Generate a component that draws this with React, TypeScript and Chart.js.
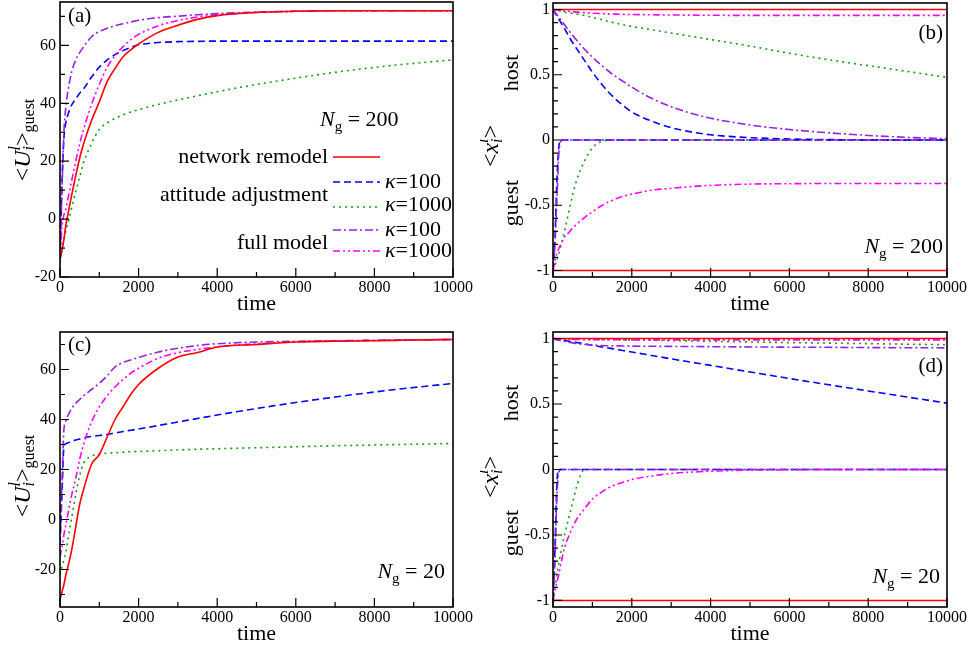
import React, { useEffect, useRef } from 'react';
import { Chart, registerables } from 'chart.js';

Chart.register(...registerables);

const SERIF = '"Liberation Serif", "Times New Roman", Times, serif';

// ---------------- data ----------------
const timeGrid = [0, 50, 100, 150, 200, 300, 400, 500, 600, 800, 1000, 1200, 1400, 1600, 1800, 2000, 2500, 3000, 3500, 4000, 5000, 6000, 7000, 8000, 9000, 10000];

// (a) N_g = 200, guest utility
const utilRemodel200 = [-14, -11, -7, -2, 1.5, 8.5, 15, 21, 26, 34, 40.5, 47.5, 52, 56, 58.5, 60.5, 64.5, 67, 69, 70.3, 71.4, 71.8, 72, 72, 72, 72];
const utilAtt100_200 = [-14, 12, 28, 33.5, 36, 39.5, 41.5, 43.5, 45, 49, 52.5, 55, 56.8, 58.2, 59.3, 60.2, 61, 61.3, 61.4, 61.5, 61.5, 61.5, 61.5, 61.5, 61.5, 61.5];
const utilAtt1000_200 = [-15, -10.5, -7, -4, -1.5, 4, 9.5, 14.5, 19.5, 26, 31, 33.2, 34.8, 36, 37, 37.8, 39.6, 41.2, 42.6, 44, 46.5, 48.7, 50.7, 52.4, 53.8, 55];
const utilFull100_200 = [-14, 10, 30, 39, 44, 51, 55, 57.5, 59.5, 63, 64.8, 65.9, 66.8, 67.5, 68.1, 68.7, 69.6, 70.1, 70.6, 71, 71.5, 71.8, 72, 72, 72, 72];
const utilFull1000_200 = [-14, -3, 1.5, 3.5, 7, 13.5, 20, 26, 31, 39.5, 46.5, 52.5, 56.5, 59.5, 62, 63.8, 66.8, 68.6, 69.8, 70.6, 71.4, 71.8, 72, 72, 72, 72];

// (c) N_g = 20, guest utility
const utilRemodel20 = [-32, -29, -26, -22, -19, -12, -3, 6, 12, 22, 26, 33, 40, 45, 50, 54, 60.5, 65, 66.8, 69, 70, 71, 71.3, 71.5, 71.8, 72];
const utilAtt100_20 = [-10, 10, 29, 30.3, 30.7, 31.3, 31.8, 32.2, 32.6, 33.2, 33.6, 34, 34.6, 35.2, 35.7, 36.2, 37.6, 39, 40.4, 41.8, 44.4, 46.8, 49, 51, 52.8, 54.4];
const utilAtt1000_20 = [-22, -19, -16, -13, -8, 1, 10, 17.5, 22.5, 25.3, 26.2, 26.5, 26.7, 26.9, 27.1, 27.2, 27.5, 27.8, 28.1, 28.3, 28.7, 29.1, 29.5, 29.8, 30.1, 30.4];
const utilFull100_20 = [-10, 15, 36, 39.5, 41.5, 44.5, 46.5, 48, 49.5, 52, 54.5, 57.5, 61, 62.8, 63.8, 64.8, 67, 68.5, 69.6, 70.3, 71, 71.3, 71.5, 71.7, 71.8, 72];
const utilFull1000_20 = [-15, -11, -6, -2, 2, 10, 16.5, 24, 30, 39, 45, 49.5, 53, 56, 58.5, 60.5, 64.5, 66.7, 68, 69, 70.3, 71, 71.4, 71.6, 71.8, 72];

// (b) N_g = 200, opinions of host and guest groups
const hostRemodel200 = [1, 1, 1, 1, 1, 1, 1, 1, 1, 1, 1, 1, 1, 1, 1, 1, 1, 1, 1, 1, 1, 1, 1, 1, 1, 1];
const guestRemodel200 = [-1, -1, -1, -1, -1, -1, -1, -1, -1, -1, -1, -1, -1, -1, -1, -1, -1, -1, -1, -1, -1, -1, -1, -1, -1, -1];
const hostAtt100_200 = [1, 0.975, 0.95, 0.925, 0.9, 0.85, 0.795, 0.745, 0.7, 0.61, 0.52, 0.44, 0.37, 0.31, 0.26, 0.215, 0.145, 0.095, 0.062, 0.04, 0.018, 0.008, 0.003, 0.001, 0, 0];
const guestAtt100_200 = [-1, -0.75, -0.3, -0.05, 0, 0, 0, 0, 0, 0, 0, 0, 0, 0, 0, 0, 0, 0, 0, 0, 0, 0, 0, 0, 0, 0];
const hostAtt1000_200 = [1, 0.997, 0.994, 0.99, 0.987, 0.98, 0.975, 0.97, 0.965, 0.955, 0.94, 0.925, 0.91, 0.895, 0.882, 0.87, 0.845, 0.82, 0.795, 0.77, 0.72, 0.665, 0.615, 0.57, 0.525, 0.48];
const guestAtt1000_200 = [-1, -0.96, -0.92, -0.87, -0.81, -0.69, -0.55, -0.42, -0.31, -0.16, -0.06, -0.015, 0, 0, 0, 0, 0, 0, 0, 0, 0, 0, 0, 0, 0, 0];
const hostFull100_200 = [1, 0.98, 0.96, 0.94, 0.92, 0.88, 0.84, 0.8, 0.765, 0.695, 0.635, 0.58, 0.53, 0.485, 0.445, 0.405, 0.32, 0.255, 0.205, 0.167, 0.115, 0.08, 0.055, 0.035, 0.02, 0.01];
const guestFull100_200 = [-1, -0.8, -0.45, -0.1, -0.01, 0, 0, 0, 0, 0, 0, 0, 0, 0, 0, 0, 0, 0, 0, 0, 0, 0, 0, 0, 0, 0];
const hostFull1000_200 = [1, 0.998, 0.996, 0.994, 0.992, 0.989, 0.986, 0.983, 0.98, 0.976, 0.972, 0.969, 0.967, 0.965, 0.963, 0.962, 0.96, 0.958, 0.957, 0.956, 0.955, 0.955, 0.955, 0.955, 0.955, 0.955];
const guestFull1000_200 = [-1, -0.93, -0.87, -0.83, -0.8, -0.74, -0.71, -0.675, -0.645, -0.595, -0.55, -0.51, -0.475, -0.45, -0.43, -0.415, -0.385, -0.37, -0.357, -0.348, -0.338, -0.335, -0.333, -0.333, -0.333, -0.333];

// (d) N_g = 20, opinions of host and guest groups
const hostRemodel20 = [1, 1, 1, 1, 1, 1, 1, 1, 1, 1, 1, 1, 1, 1, 1, 1, 1, 1, 1, 1, 1, 1, 1, 1, 1, 1];
const guestRemodel20 = [-1, -1, -1, -1, -1, -1, -1, -1, -1, -1, -1, -1, -1, -1, -1, -1, -1, -1, -1, -1, -1, -1, -1, -1, -1, -1];
const hostAtt100_20 = [1, 0.997, 0.995, 0.992, 0.99, 0.985, 0.98, 0.975, 0.97, 0.96, 0.949, 0.938, 0.928, 0.918, 0.907, 0.897, 0.871, 0.845, 0.82, 0.795, 0.745, 0.695, 0.647, 0.6, 0.553, 0.507];
const guestAtt100_20 = [-1, -0.6, -0.1, 0, 0, 0, 0, 0, 0, 0, 0, 0, 0, 0, 0, 0, 0, 0, 0, 0, 0, 0, 0, 0, 0, 0];
const hostAtt1000_20 = [1, 1, 0.999, 0.999, 0.998, 0.998, 0.997, 0.997, 0.996, 0.995, 0.994, 0.993, 0.992, 0.991, 0.99, 0.989, 0.987, 0.984, 0.982, 0.979, 0.974, 0.969, 0.965, 0.961, 0.957, 0.953];
const guestAtt1000_20 = [-1, -0.9, -0.8, -0.71, -0.63, -0.49, -0.37, -0.25, -0.13, 0, 0, 0, 0, 0, 0, 0, 0, 0, 0, 0, 0, 0, 0, 0, 0, 0];
const hostFull100_20 = [1, 0.995, 0.99, 0.987, 0.984, 0.978, 0.972, 0.967, 0.962, 0.955, 0.95, 0.947, 0.945, 0.944, 0.943, 0.942, 0.941, 0.94, 0.939, 0.938, 0.936, 0.934, 0.933, 0.931, 0.93, 0.929];
const guestFull100_20 = [-1, -0.7, -0.2, -0.02, 0, 0, 0, 0, 0, 0, 0, 0, 0, 0, 0, 0, 0, 0, 0, 0, 0, 0, 0, 0, 0, 0];
const hostFull1000_20 = [1, 0.999, 0.998, 0.997, 0.996, 0.995, 0.994, 0.993, 0.993, 0.992, 0.992, 0.991, 0.991, 0.991, 0.99, 0.99, 0.99, 0.99, 0.99, 0.99, 0.99, 0.99, 0.99, 0.99, 0.99, 0.99];
const guestFull1000_20 = [-1, -0.93, -0.86, -0.8, -0.72, -0.59, -0.51, -0.44, -0.38, -0.3, -0.225, -0.18, -0.14, -0.115, -0.095, -0.077, -0.05, -0.03, -0.02, -0.013, -0.005, -0.002, 0, 0, 0, 0];

// ticks
const xMajorTicks = [0, 2000, 4000, 6000, 8000, 10000];
const xMinorTicks = [1000, 3000, 5000, 7000, 9000];
const utilMajorTicks = [-20, 0, 20, 40, 60];
const utilMinorTicksA = [-10, 10, 30, 50, 70];
const utilMinorTicksC = [-30, -10, 10, 30, 50, 70];
const opinionMajorTicks = [-1, -0.5, 0, 0.5, 1];
const opinionMinorTicks = [-0.9, -0.8, -0.7, -0.6, -0.4, -0.3, -0.2, -0.1, 0.1, 0.2, 0.3, 0.4, 0.6, 0.7, 0.8, 0.9];

// ---------------- styles ----------------
type StyleKey = 'remodel' | 'att100' | 'att1000' | 'full100' | 'full1000';
const STYLES: Record<StyleKey, { color: string; dash: number[] }> = {
  remodel: { color: '#ff0000', dash: [] },
  att100: { color: '#0000ff', dash: [7, 4] },
  att1000: { color: '#12a012', dash: [2, 4] },
  full100: { color: '#9b1fe0', dash: [8, 3, 2, 3] },
  full1000: { color: '#ff00ff', dash: [7, 3, 2, 3, 2, 3] },
};

type Part = { t: string; size?: number; italic?: boolean; dy?: number; t2?: string; dy2?: number };

function fontStr(size: number, italic?: boolean) {
  return `${italic ? 'italic ' : ''}${size}px ${SERIF}`;
}

function drawRich(ctx: CanvasRenderingContext2D, parts: Part[], x: number, y: number, align: 'left' | 'center' | 'right', rotated = false) {
  ctx.save();
  ctx.translate(x, y);
  if (rotated) ctx.rotate(-Math.PI / 2);
  ctx.textBaseline = 'alphabetic';
  ctx.textAlign = 'left';
  ctx.fillStyle = '#000';
  const widths = parts.map((p) => {
    ctx.font = fontStr(p.size ?? 22, p.italic);
    let w = ctx.measureText(p.t).width;
    if (p.t2) w = Math.max(w, ctx.measureText(p.t2).width);
    return w;
  });
  const total = widths.reduce((a, b) => a + b, 0);
  let cx = align === 'left' ? 0 : align === 'center' ? -total / 2 : -total;
  parts.forEach((p, i) => {
    ctx.font = fontStr(p.size ?? 22, p.italic);
    ctx.fillText(p.t, cx, p.dy ?? 0);
    if (p.t2) ctx.fillText(p.t2, cx, p.dy2 ?? 0);
    cx += widths[i];
  });
  ctx.restore();
}

const ngParts = (n: string): Part[] => [
  { t: 'N', italic: true },
  { t: 'g', size: 15, dy: 5 },
  { t: ' = ' + n },
];
const utilTitle: Part[] = [
  { t: '<', size: 24 },
  { t: 'U', italic: true, size: 24 },
  { t: 'i', size: 16, italic: true, dy: 4, t2: 'l', dy2: -10 },
  { t: '>', size: 24 },
  { t: 'guest', size: 16, dy: 4 },
];
const opinionTitle: Part[] = [
  { t: '<', size: 24 },
  { t: 'x', italic: true, size: 24 },
  { t: 'i', size: 16, italic: true, dy: 4, t2: 'l', dy2: -10 },
  { t: '>', size: 24 },
];

interface LineSpec { style: StyleKey; values: number[] }
interface PanelSpec {
  left: number; top: number; width: number; height: number;
  area: { left: number; right: number; top: number; bottom: number };
  yMin: number; yMax: number; yMajor: number[]; yMinor: number[]; yPad: number;
  lines: LineSpec[];
  label: { t: string; x: number; y: number; align: 'left' | 'right' };
  ng: { n: string; x: number; y: number; align: 'left' | 'right' };
  kind: 'util' | 'opinion';
  title: { x: number; y: number };
  host?: { x: number; y: number };
  guest?: { x: number; y: number };
  legend?: boolean;
}

const PANELS: PanelSpec[] = [
  {
    left: 0, top: 0, width: 480, height: 320,
    area: { left: 60, right: 453, top: 2, bottom: 277 },
    yMin: -20, yMax: 75, yMajor: utilMajorTicks, yMinor: utilMinorTicksA, yPad: 4,
    lines: [
      { style: 'remodel', values: utilRemodel200 },
      { style: 'full100', values: utilFull100_200 },
      { style: 'full1000', values: utilFull1000_200 },
      { style: 'att100', values: utilAtt100_200 },
      { style: 'att1000', values: utilAtt1000_200 },
    ],
    label: { t: '(a)', x: 68, y: 16, align: 'left' },
    ng: { n: '200', x: 320, y: 126, align: 'left' },
    kind: 'util', title: { x: 30, y: 140 }, legend: true,
  },
  {
    left: 480, top: 0, width: 491, height: 320,
    area: { left: 73, right: 467, top: 3, bottom: 277 },
    yMin: -1.05, yMax: 1.05, yMajor: opinionMajorTicks, yMinor: opinionMinorTicks, yPad: 3,
    lines: [
      { style: 'remodel', values: hostRemodel200 },
      { style: 'remodel', values: guestRemodel200 },
      { style: 'full1000', values: hostFull1000_200 },
      { style: 'full1000', values: guestFull1000_200 },
      { style: 'full100', values: hostFull100_200 },
      { style: 'full100', values: guestFull100_200 },
      { style: 'att100', values: hostAtt100_200 },
      { style: 'att100', values: guestAtt100_200 },
      { style: 'att1000', values: hostAtt1000_200 },
      { style: 'att1000', values: guestAtt1000_200 },
    ],
    label: { t: '(b)', x: 463, y: 33, align: 'right' },
    ng: { n: '200', x: 463, y: 253, align: 'right' },
    kind: 'opinion', title: { x: 18, y: 146 }, host: { x: 38, y: 73 }, guest: { x: 38, y: 203 },
  },
  {
    left: 0, top: 320, width: 480, height: 330,
    area: { left: 60, right: 453, top: 12, bottom: 287 },
    yMin: -35, yMax: 75, yMajor: utilMajorTicks, yMinor: utilMinorTicksC, yPad: 4,
    lines: [
      { style: 'remodel', values: utilRemodel20 },
      { style: 'full100', values: utilFull100_20 },
      { style: 'full1000', values: utilFull1000_20 },
      { style: 'att100', values: utilAtt100_20 },
      { style: 'att1000', values: utilAtt1000_20 },
    ],
    label: { t: '(c)', x: 68, y: 25, align: 'left' },
    ng: { n: '20', x: 445, y: 258, align: 'right' },
    kind: 'util', title: { x: 30, y: 156 },
  },
  {
    left: 480, top: 320, width: 491, height: 330,
    area: { left: 73, right: 467, top: 12, bottom: 287 },
    yMin: -1.05, yMax: 1.05, yMajor: opinionMajorTicks, yMinor: opinionMinorTicks, yPad: 3,
    lines: [
      { style: 'remodel', values: hostRemodel20 },
      { style: 'remodel', values: guestRemodel20 },
      { style: 'full1000', values: hostFull1000_20 },
      { style: 'full1000', values: guestFull1000_20 },
      { style: 'full100', values: hostFull100_20 },
      { style: 'full100', values: guestFull100_20 },
      { style: 'att100', values: hostAtt100_20 },
      { style: 'att100', values: guestAtt100_20 },
      { style: 'att1000', values: hostAtt1000_20 },
      { style: 'att1000', values: guestAtt1000_20 },
    ],
    label: { t: '(d)', x: 463, y: 46, align: 'right' },
    ng: { n: '20', x: 460, y: 263, align: 'right' },
    kind: 'opinion', title: { x: 18, y: 157 }, host: { x: 38, y: 83 }, guest: { x: 38, y: 213 },
  },
];

function legendDraw(ctx: CanvasRenderingContext2D) {
  const sample = (style: StyleKey, y: number) => {
    ctx.save();
    ctx.strokeStyle = STYLES[style].color;
    ctx.lineWidth = 1.6;
    ctx.setLineDash(STYLES[style].dash);
    ctx.beginPath();
    ctx.moveTo(333, y);
    ctx.lineTo(380, y);
    ctx.stroke();
    ctx.restore();
  };
  const kappa = (n: string): Part[] => [{ t: 'κ', italic: true }, { t: '=' + n }];
  drawRich(ctx, [{ t: 'network remodel' }], 328, 163, 'right');
  sample('remodel', 157);
  drawRich(ctx, [{ t: 'attitude adjustment' }], 328, 201, 'right');
  sample('att100', 182);
  drawRich(ctx, kappa('100'), 385, 188, 'left');
  sample('att1000', 207);
  drawRich(ctx, kappa('1000'), 385, 211, 'left');
  drawRich(ctx, [{ t: 'full model' }], 328, 249, 'right');
  sample('full100', 230);
  drawRich(ctx, kappa('100'), 385, 236, 'left');
  sample('full1000', 251);
  drawRich(ctx, kappa('1000'), 385, 257, 'left');
}

function buildChart(canvas: HTMLCanvasElement, spec: PanelSpec) {
  const { area, width, height } = spec;
  const decor = {
    id: 'decor',
    afterDraw(chart: any) {
      const ctx: CanvasRenderingContext2D = chart.ctx;
      const { left, right, top, bottom } = chart.chartArea;
      const xs = chart.scales.x;
      const ys = chart.scales.y;
      ctx.save();
      ctx.strokeStyle = '#000';
      ctx.lineWidth = 1.2;
      ctx.beginPath();
      xMajorTicks.forEach((v) => { const p = xs.getPixelForValue(v); ctx.moveTo(p, bottom); ctx.lineTo(p, bottom - 9); });
      xMinorTicks.forEach((v) => { const p = xs.getPixelForValue(v); ctx.moveTo(p, bottom); ctx.lineTo(p, bottom - 5); });
      spec.yMajor.forEach((v) => { const p = ys.getPixelForValue(v); ctx.moveTo(left, p); ctx.lineTo(left + 9, p); });
      spec.yMinor.forEach((v) => { const p = ys.getPixelForValue(v); ctx.moveTo(left, p); ctx.lineTo(left + 5, p); });
      ctx.stroke();
      ctx.lineWidth = 1.6;
      ctx.strokeRect(left, top, right - left, bottom - top);
      ctx.restore();

      // panel label
      ctx.save();
      ctx.fillStyle = '#000';
      ctx.font = fontStr(21);
      ctx.textBaseline = 'middle';
      ctx.textAlign = spec.label.align;
      ctx.fillText(spec.label.t, spec.label.x, spec.label.y);
      ctx.restore();

      drawRich(ctx, ngParts(spec.ng.n), spec.ng.x, spec.ng.y, spec.ng.align);
      drawRich(ctx, spec.kind === 'util' ? utilTitle : opinionTitle, spec.title.x, spec.title.y, 'center', true);
      if (spec.host) drawRich(ctx, [{ t: 'host' }], spec.host.x, spec.host.y, 'center', true);
      if (spec.guest) drawRich(ctx, [{ t: 'guest' }], spec.guest.x, spec.guest.y, 'center', true);
      if (spec.legend) legendDraw(ctx);
    },
  };

  const datasets = spec.lines.map((l) => ({
    data: timeGrid.map((t, i) => ({ x: t, y: l.values[i] })),
    borderColor: STYLES[l.style].color,
    borderDash: STYLES[l.style].dash,
    borderWidth: 1.6,
    pointRadius: 0,
    fill: false,
    cubicInterpolationMode: 'monotone' as const,
  }));

  return new Chart(canvas, {
    type: 'line',
    data: { datasets },
    options: {
      responsive: false,
      maintainAspectRatio: false,
      devicePixelRatio: 1,
      animation: false,
      events: [],
      layout: { padding: { left: 0, top: area.top, right: width - area.right, bottom: 0 } },
      plugins: { legend: { display: false }, tooltip: { enabled: false } },
      scales: {
        x: {
          type: 'linear',
          min: 0,
          max: 10000,
          afterBuildTicks: (s: any) => { s.ticks = xMajorTicks.map((v) => ({ value: v })); },
          afterFit: (s: any) => { s.height = height - area.bottom; s.paddingLeft = 0; s.paddingRight = 0; },
          grid: { display: false, drawTicks: false },
          border: { display: false },
          ticks: {
            autoSkip: false, maxRotation: 0, padding: 1, color: '#000',
            font: { family: SERIF, size: 16 },
            callback: (v: any) => String(v),
          },
          title: {
            display: true, text: 'time', color: '#000',
            font: { family: SERIF, size: 22 },
            padding: { top: 0, bottom: 3 },
          },
        },
        y: {
          type: 'linear',
          min: spec.yMin,
          max: spec.yMax,
          afterBuildTicks: (s: any) => { s.ticks = spec.yMajor.map((v) => ({ value: v })); },
          afterFit: (s: any) => { s.width = area.left; s.paddingTop = 0; s.paddingBottom = 0; },
          grid: { display: false, drawTicks: false },
          border: { display: false },
          ticks: {
            autoSkip: false, padding: spec.yPad, color: '#000',
            font: { family: SERIF, size: 16 },
            callback: (v: any) => String(v),
          },
        },
      },
    } as any,
    plugins: [decor],
  });
}

export default function App() {
  const r0 = useRef<HTMLCanvasElement>(null);
  const r1 = useRef<HTMLCanvasElement>(null);
  const r2 = useRef<HTMLCanvasElement>(null);
  const r3 = useRef<HTMLCanvasElement>(null);
  const refs = [r0, r1, r2, r3];

  useEffect(() => {
    const charts = PANELS.map((spec, i) => buildChart(refs[i].current as HTMLCanvasElement, spec));
    return () => charts.forEach((c) => c.destroy());
  }, []);

  return (
    <div style={{ position: 'absolute', left: 0, top: 0, width: 971, height: 650, background: '#fff', overflow: 'hidden' }}>
      {PANELS.map((p, i) => (
        <canvas
          key={i}
          ref={refs[i]}
          width={p.width}
          height={p.height}
          style={{ position: 'absolute', left: p.left, top: p.top, width: p.width, height: p.height }}
        />
      ))}
    </div>
  );
}
